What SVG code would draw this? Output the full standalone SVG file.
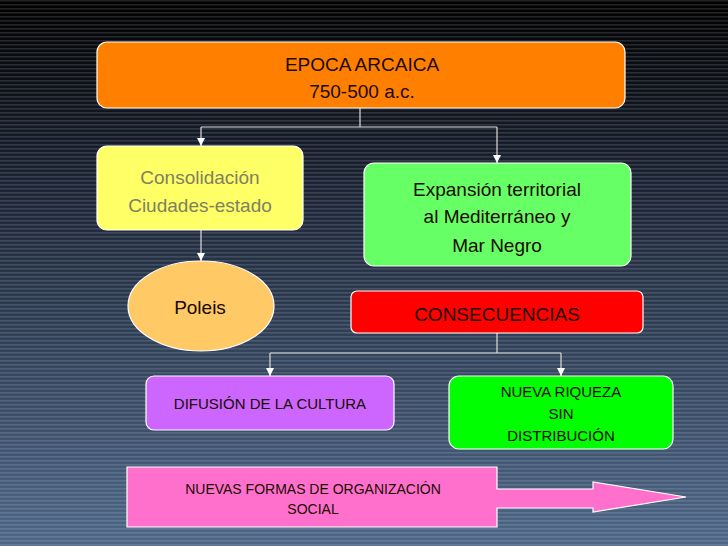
<svg xmlns="http://www.w3.org/2000/svg" width="728" height="546" viewBox="0 0 728 546">
<defs>
<linearGradient id="bg" x1="0" y1="0" x2="0" y2="1"><stop offset="0" stop-color="#000000"/><stop offset="0.35" stop-color="#1c2536"/><stop offset="1" stop-color="#4e6788"/></linearGradient>
<pattern id="st" width="10" height="4" patternUnits="userSpaceOnUse"><rect width="10" height="1.6" fill="#ffffff" opacity="0.13"/></pattern>
<marker id="ah" viewBox="0 0 10 10" refX="10" refY="5" markerWidth="8" markerHeight="8" orient="auto" markerUnits="userSpaceOnUse"><path d="M0,0 L10,5 L0,10 z" fill="#ffffff"/></marker>
</defs>
<style>
.n{stroke:#ffffff;stroke-width:1.2}
.t{font-family:"Liberation Sans",Arial,sans-serif;text-anchor:middle;fill:#1a0a00}
.c{fill:none;stroke:#dddddd;stroke-width:1.2}
</style>
<rect width="728" height="546" fill="url(#bg)"/>
<rect width="728" height="546" fill="url(#st)"/>
<g id="connectors">
<path class="c" d="M360,108 V127 M201,127 H497"/>
<path class="c" d="M201,127 V146" marker-end="url(#ah)"/>
<path class="c" d="M497,127 V163" marker-end="url(#ah)"/>
<path class="c" d="M201,230 V261" marker-end="url(#ah)"/>
<path class="c" d="M497,333 V353 M270,353 H561"/>
<path class="c" d="M270,353 V376" marker-end="url(#ah)"/>
<path class="c" d="M561,353 V376" marker-end="url(#ah)"/>
</g>
<g id="epoca"><rect class="n" x="97" y="42" width="528" height="66" rx="10" fill="#ff8000"/>
<text class="t" x="362" y="71" font-size="19">EPOCA ARCAICA</text><text class="t" x="362" y="98" font-size="19">750-500 a.c.</text></g>
<g id="consolidacion"><rect class="n" x="97" y="146" width="206" height="84" rx="10" fill="#ffff66"/>
<text class="t" x="200" y="184" font-size="19" style="fill:#808060">Consolidación</text><text class="t" x="200" y="212" font-size="19" style="fill:#808060">Ciudades-estado</text></g>
<g id="poleis"><ellipse class="n" cx="201" cy="306" rx="73" ry="45" fill="#ffc966"/><text class="t" x="200" y="314" font-size="19">Poleis</text></g>
<g id="expansion"><rect class="n" x="364" y="163" width="267" height="103" rx="10" fill="#66ff66"/>
<text class="t" x="497" y="196" font-size="19">Expansión territorial</text><text class="t" x="497" y="223" font-size="19">al Mediterráneo y</text><text class="t" x="497" y="252" font-size="19">Mar Negro</text></g>
<g id="consecuencias"><rect class="n" x="351" y="291" width="292" height="42" rx="6" fill="#ff0000"/><text class="t" x="497" y="321" font-size="19">CONSECUENCIAS</text></g>
<g id="difusion"><rect class="n" x="146" y="376" width="248" height="54" rx="8" fill="#cc66ff"/><text class="t" x="270" y="409" font-size="15">DIFUSIÓN DE LA CULTURA</text></g>
<g id="riqueza"><rect class="n" x="449" y="376" width="224" height="73" rx="10" fill="#00ff00"/>
<text class="t" x="561" y="397" font-size="15">NUEVA RIQUEZA</text><text class="t" x="561" y="419" font-size="15">SIN</text><text class="t" x="561" y="441" font-size="15">DISTRIBUCIÓN</text></g>
<g id="nuevas"><path class="n" d="M127,467 H497 V489 H593 V482 L686,497 L593,512 V508 H497 V527 H127 Z" fill="#ff70cc"/>
<text class="t" x="313" y="494" font-size="14">NUEVAS FORMAS DE ORGANIZACIÓN</text><text class="t" x="313" y="514" font-size="14">SOCIAL</text></g>
</svg>
